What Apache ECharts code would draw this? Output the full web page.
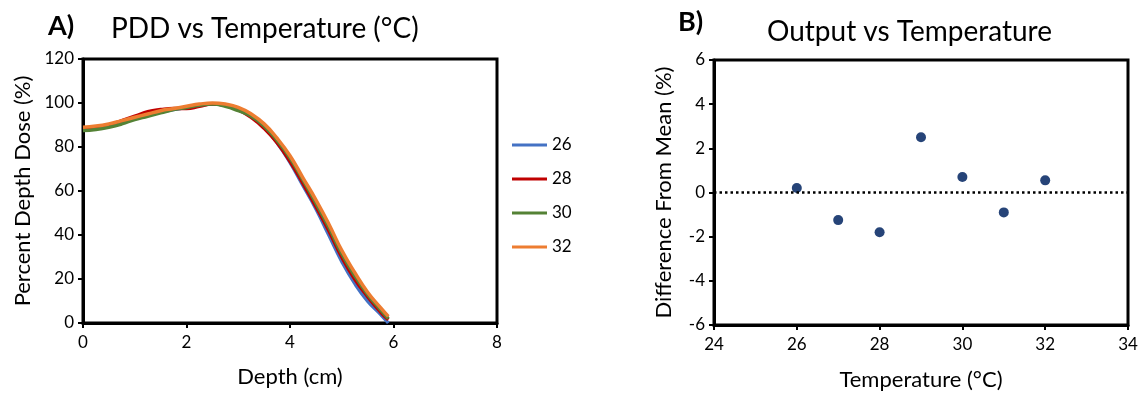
<!DOCTYPE html>
<html>
<head>
<meta charset="utf-8">
<script src="https://cdn.jsdelivr.net/npm/echarts@6/dist/echarts.min.js"></script>
<style>
  html, body { margin: 0; padding: 0; background: #fff; }
  #main { width: 1140px; height: 393px; }
</style>
</head>
<body>
<div id="main"></div>
<script>
// depth (cm) sample points for the PDD curves
var depth = [0, 0.25, 0.5, 0.75, 1, 1.25, 1.5, 1.75, 2, 2.25, 2.5, 2.75, 3, 3.25, 3.5, 3.75, 4, 4.25, 4.5, 4.75, 5, 5.25, 5.5, 5.75, 5.9]
var pdd26 = [88, 88.5, 89.5, 91, 93, 94.5, 96, 97, 98, 99, 99.5, 99, 97, 94, 89, 82, 73, 62.5, 52, 40, 28, 18, 10, 4, 0]
var pdd28 = [88.5, 89, 90, 92, 94, 96, 97, 97.5, 97.5, 98.5, 99.5, 99, 97, 93.5, 88.5, 82, 73.5, 63.5, 53, 42, 30, 20, 12, 5, 1.5]
var pdd30 = [87.5, 88, 89, 90.5, 92.5, 94, 95.5, 97, 98, 99, 99.5, 98.5, 96.5, 94, 89.5, 83, 75, 65, 54.5, 43.5, 31.5, 21.5, 13, 6, 2]
var pdd32 = [89, 89.5, 90.5, 92, 93.5, 95, 96.5, 97.5, 98.5, 99.5, 100, 99.5, 98, 95, 90.5, 84, 76, 66, 56, 45, 33, 23, 14, 7, 3]
var pddNames = ['26', '28', '30', '32']
var pddColors = ['#4472C4', '#C00000', '#548235', '#ED7D31']

// output difference from mean (%) per temperature
var temps = [26, 27, 28, 29, 30, 31, 32]
var diffs = [0.2, -1.25, -1.8, 2.5, 0.7, -0.9, 0.55]

var FONT = 'Lato'
var zip = function (xs, ys) { return xs.map(function (x, i) { return [x, ys[i]] }) }

var axisCommon = {
  axisLine: { onZero: false, lineStyle: { color: '#000', width: 3 } },
  axisTick: { show: true, length: 5, lineStyle: { color: '#000', width: 2 } },
  axisLabel: { color: '#000', fontSize: 17, fontFamily: FONT, margin: 9 },
  splitLine: { show: false },
  nameLocation: 'middle',
  nameTextStyle: { color: '#000', fontSize: 22, fontFamily: FONT }
}

var titleStyle = { fontSize: 28, fontWeight: 'normal', color: '#000', fontFamily: FONT }
var tagStyle = { fontSize: 27, fontWeight: 'bold', color: '#000', fontFamily: FONT }

var myChart = echarts.init(document.getElementById('main'))
var option = {
  animation: false,
  textStyle: { fontFamily: FONT },
  title: [
    { text: 'A)', left: 43, top: 8, textStyle: tagStyle },
    { text: 'PDD vs Temperature (°C)', left: 106, top: 10, textStyle: titleStyle },
    { text: 'B)', left: 673, top: 4, textStyle: tagStyle },
    { text: 'Output vs Temperature', left: 762, top: 13, textStyle: titleStyle }
  ],
  legend: {
    orient: 'vertical',
    left: 507,
    top: 130,
    itemWidth: 35,
    itemHeight: 3,
    itemGap: 14,
    icon: 'rect',
    textStyle: { color: '#000', fontSize: 17, lineHeight: 20, fontFamily: FONT },
    data: pddNames
  },
  grid: [
    { left: 83, right: 643, top: 59, bottom: 70, outerBoundsMode: 'none', show: true, borderColor: '#000', borderWidth: 3 },
    { left: 714, right: 12, top: 60, bottom: 68, outerBoundsMode: 'none', show: true, borderColor: '#000', borderWidth: 3 }
  ],
  xAxis: [
    Object.assign({}, axisCommon, { gridIndex: 0, type: 'value', min: 0, max: 8, interval: 2, name: 'Depth (cm)', nameGap: 43,
      axisLabel: Object.assign({}, axisCommon.axisLabel, { margin: 11 }) }),
    Object.assign({}, axisCommon, { gridIndex: 1, type: 'value', min: 24, max: 34, interval: 2, name: 'Temperature (°C)', nameGap: 44,
      axisLabel: Object.assign({}, axisCommon.axisLabel, { margin: 11 }) })
  ],
  yAxis: [
    Object.assign({}, axisCommon, { gridIndex: 0, type: 'value', min: 0, max: 120, interval: 20, name: 'Percent Depth Dose (%)', nameGap: 49 }),
    Object.assign({}, axisCommon, { gridIndex: 1, type: 'value', min: -6, max: 6, interval: 2, name: 'Difference From Mean (%)', nameGap: 39 })
  ],
  series: [pdd26, pdd28, pdd30, pdd32].map(function (vals, i) {
    return {
      name: pddNames[i],
      type: 'line',
      xAxisIndex: 0,
      yAxisIndex: 0,
      smooth: true,
      showSymbol: false,
      color: pddColors[i],
      lineStyle: { width: 3.5, color: pddColors[i] },
      data: zip(depth, vals)
    }
  }).concat([{
    name: 'Output',
    type: 'scatter',
    xAxisIndex: 1,
    yAxisIndex: 1,
    symbol: 'circle',
    symbolSize: 10,
    itemStyle: { color: '#264478', opacity: 1 },
    data: zip(temps, diffs),
    markLine: {
      silent: true,
      symbol: 'none',
      label: { show: false },
      lineStyle: { color: '#000', width: 2.5, type: [2.5, 3] },
      data: [{ yAxis: 0 }]
    }
  }])
}
myChart.setOption(option)
</script>
</body>
</html>
